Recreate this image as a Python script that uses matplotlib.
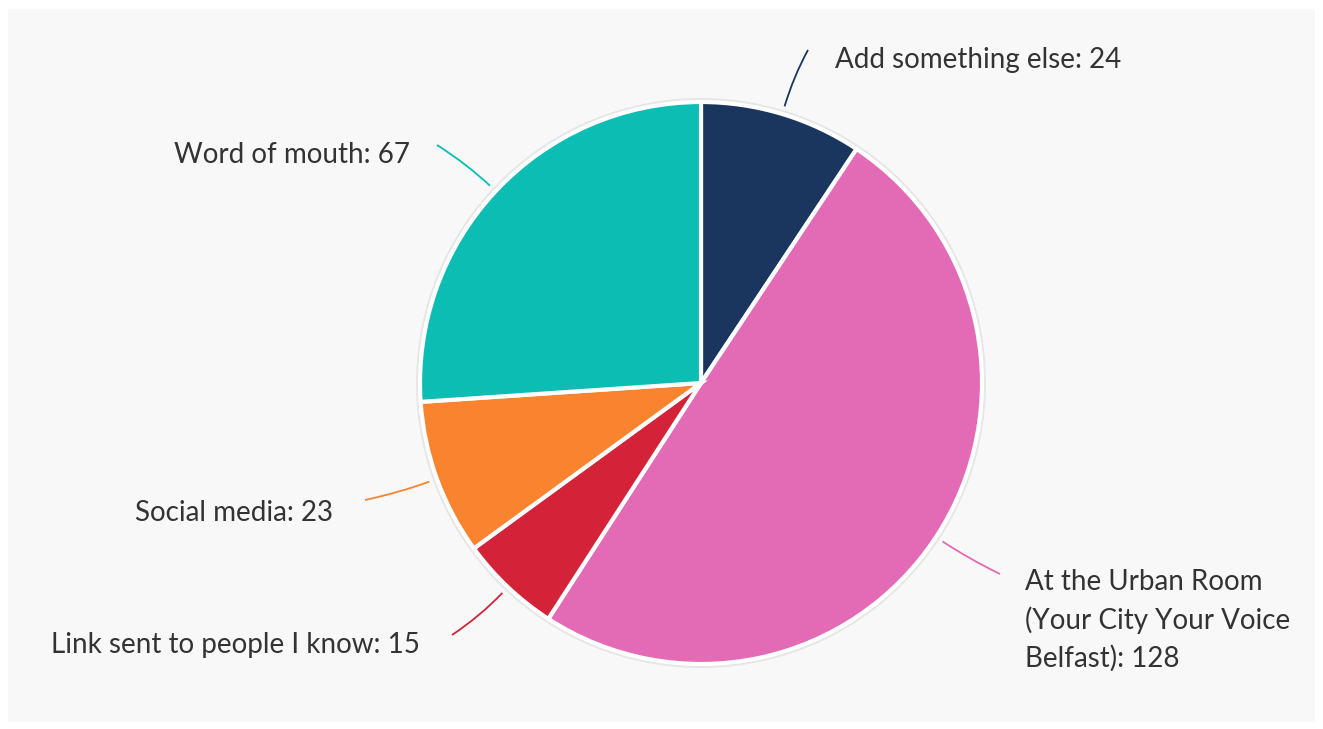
import numpy as np
import matplotlib.pyplot as plt
from matplotlib.patches import Rectangle, Circle, PathPatch
from matplotlib.path import Path

labels = ["Add something else", "At the Urban Room\n(Your City Your Voice\nBelfast)",
          "Link sent to people I know", "Social media", "Word of mouth"]
values = [24, 128, 15, 23, 67]
colors = ["#1b365e", "#e36bb6", "#d42338", "#fa832f", "#0bbdb2"]

W, H = 1323, 729
cx, cy, r = 701, H - 383, 281

# label anchor (end of connector) and text alignment for each slice
label_pos = [(808, H - 50), (1000, H - 574), (452, H - 635), (365, H - 500), (437, H - 145)]
text_pos = [(835, H - 60), (1025, H - 620), (420, H - 645), (333, H - 513), (410, H - 155)]
text_ha = ["left", "left", "right", "right", "right"]

plt.rcParams['font.family'] = ['Lato', 'DejaVu Sans']

fig = plt.figure(figsize=(W / 100, H / 100), dpi=100)
fig.patch.set_facecolor("white")
ax = fig.add_axes([0, 0, 1, 1])

ax.add_patch(Rectangle((8, 7), W - 16, H - 16, facecolor="#f8f8f8", edgecolor="none", zorder=0))
# soft halo around the pie
ax.add_patch(Circle((cx, cy), r + 4, facecolor="#e6e6e6", edgecolor="none", zorder=1))

wedges, _ = ax.pie(values, colors=colors, startangle=90, counterclock=False,
                   center=(cx, cy), radius=r, frame=True,
                   wedgeprops=dict(edgecolor="white", linewidth=3))
for w in wedges:
    w.set_zorder(2)
ax.set_xlim(0, W)
ax.set_ylim(0, H)
ax.set_aspect("equal")
ax.axis("off")

total = sum(values)
cum = np.cumsum([0] + values[:-1])
for i, v in enumerate(values):
    mid = np.deg2rad(90 - (cum[i] + v / 2) / total * 360)
    x0, y0 = cx + (r + 8) * np.cos(mid), cy + (r + 8) * np.sin(mid)
    xc, yc = cx + (r + 40) * np.cos(mid), cy + (r + 40) * np.sin(mid)
    x1, y1 = label_pos[i]
    path = Path([(x0, y0), (xc, yc), (x1, y1)], [Path.MOVETO, Path.CURVE3, Path.CURVE3])
    ax.add_patch(PathPatch(path, facecolor="none", edgecolor=colors[i], linewidth=1.3, zorder=3))
    tx, ty = text_pos[i]
    ax.text(tx, ty, f"{labels[i]}: {v}", ha=text_ha[i], va="center", fontsize=20,
            color="#333333", linespacing=1.5, zorder=4)

fig.savefig("out.png", dpi=100)
